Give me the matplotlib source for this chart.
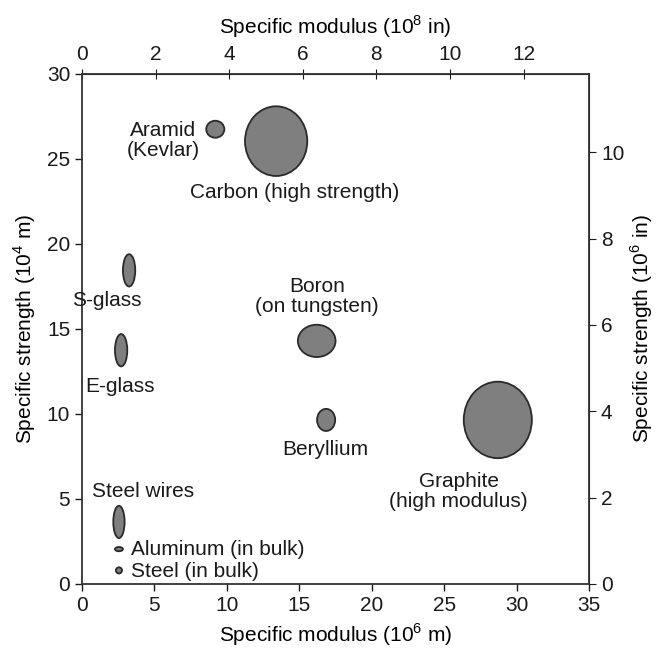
import matplotlib
matplotlib.use("Agg")
import matplotlib.pyplot as plt
from matplotlib.patches import Ellipse

plt.rcParams['font.family'] = ['Liberation Sans', 'DejaVu Sans']
plt.rcParams['mathtext.fontset'] = 'custom'
plt.rcParams['mathtext.rm'] = 'Liberation Sans'

# Materials: centre (modulus, strength) and spread of each blob
materials = ['Aramid', 'Carbon', 'S-glass', 'E-glass', 'Boron', 'Beryllium',
             'Graphite', 'Steel wires', 'Aluminum', 'Steel']
modulus = [9.2, 13.4, 3.25, 2.7, 16.2, 16.85, 28.7, 2.55, 2.55, 2.55]
strength = [26.75, 26.05, 18.45, 13.75, 14.3, 9.65, 9.65, 3.65, 2.05, 0.8]
mod_spread = [1.25, 4.3, 0.85, 0.85, 2.6, 1.25, 4.7, 0.78, 0.55, 0.42]
str_spread = [1.0, 4.1, 1.9, 1.9, 1.9, 1.3, 4.5, 1.9, 0.25, 0.36]

labels = ['Aramid\n(Kevlar)', 'Carbon (high strength)', 'S-glass', 'E-glass',
          'Boron\n(on tungsten)', 'Beryllium', 'Graphite\n(high modulus)',
          'Steel wires', 'Aluminum (in bulk)', 'Steel (in bulk)']
label_x = [5.6, 14.7, 1.7, 2.6, 16.2, 16.8, 26.0, 4.2, 3.4, 3.4]
label_y = [26.1, 23.0, 16.7, 11.6, 16.9, 7.9, 5.45, 5.45, 2.05, 0.75]
label_ha = ['center'] * 8 + ['left', 'left']

M_TO_IN = 39.37 / 100.0  # 10^6 m -> 10^8 in, 10^4 m -> 10^6 in
FS = 15

fig = plt.figure(figsize=(6.56, 6.53), dpi=100)
ax = fig.add_axes([0.125, 0.1057, 0.773, 0.781])

for i in range(len(materials)):
    e = Ellipse((modulus[i], strength[i]), mod_spread[i], str_spread[i],
                facecolor='#7f7f7f', edgecolor='#2a2a2a', linewidth=1.3)
    ax.add_patch(e)
    ax.text(label_x[i], label_y[i], labels[i], ha=label_ha[i], va='center',
            fontsize=FS, color='#1a1a1a', linespacing=1.1)

ax.set_xlim(0, 35)
ax.set_ylim(0, 30)
ax.set_xticks(range(0, 36, 5))
ax.set_yticks(range(0, 31, 5))
ax.set_xlabel('Specific modulus (10$^6$ m)', fontsize=FS, labelpad=5)
ax.set_ylabel('Specific strength (10$^4$ m)', fontsize=FS, labelpad=6)
ax.tick_params(direction='out', length=5, labelsize=FS, width=1, colors='#1a1a1a')
for s in ax.spines.values():
    s.set_linewidth(1.3)
    s.set_color('#333333')

top = ax.secondary_xaxis('top', functions=(lambda v: v * M_TO_IN, lambda v: v / M_TO_IN))
top.set_xticks(range(0, 13, 2))
top.set_xlabel('Specific modulus (10$^8$ in)', fontsize=FS, labelpad=8)
top.tick_params(direction='inout', length=7, labelsize=FS, colors='#1a1a1a')

right = ax.secondary_yaxis('right', functions=(lambda v: v * M_TO_IN, lambda v: v / M_TO_IN))
right.set_yticks(range(0, 11, 2))
right.set_ylabel('Specific strength (10$^6$ in)', fontsize=FS, labelpad=3)
right.tick_params(direction='out', length=5, labelsize=FS, colors='#1a1a1a')

fig.savefig('out.png', dpi=100)
